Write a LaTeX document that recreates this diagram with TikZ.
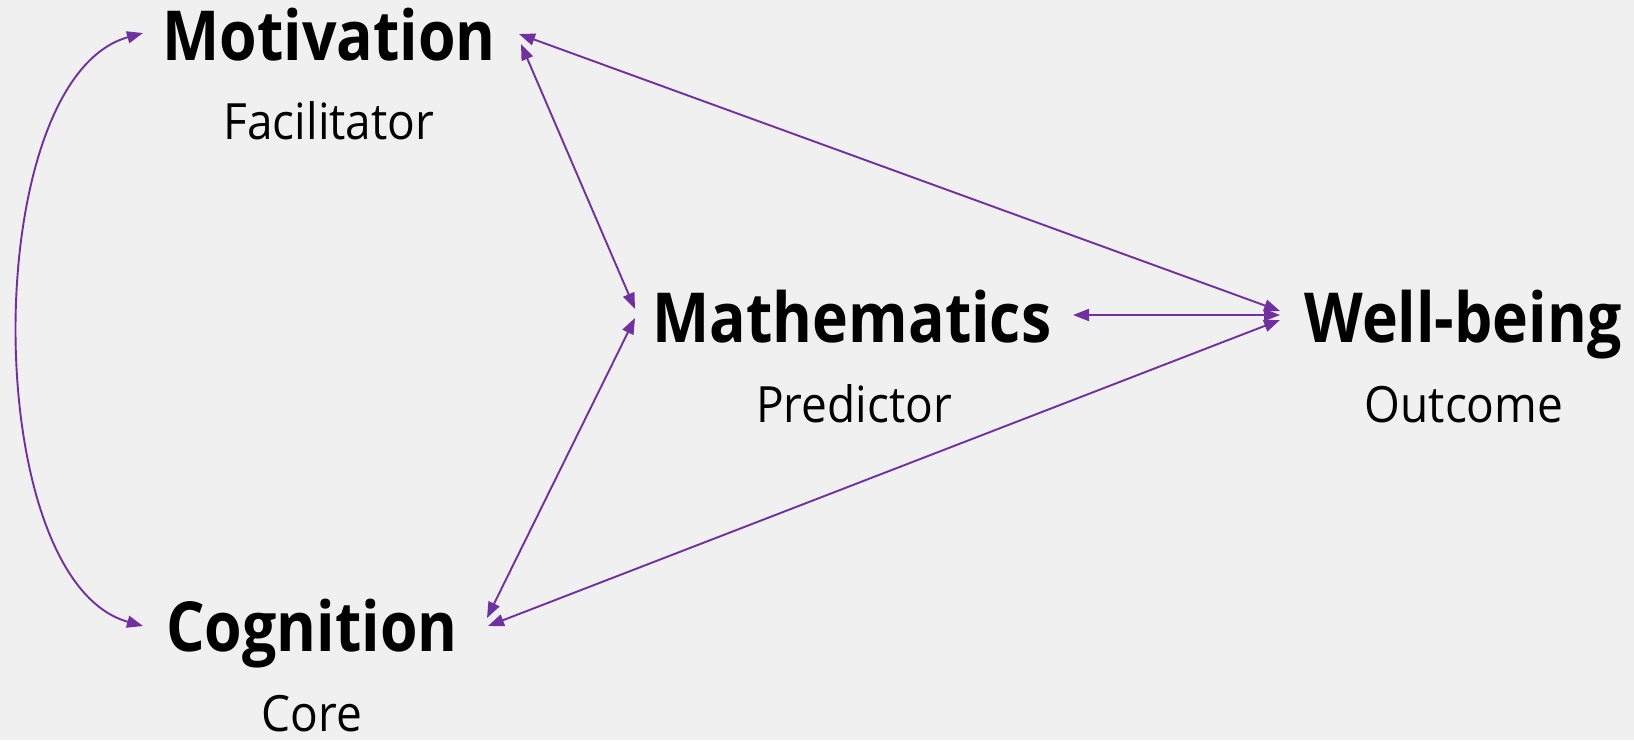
\documentclass[tikz,border=0pt]{standalone}
\usepackage{fontspec}
\setmainfont{Open Sans}
\newfontfamily\titlef[FakeStretch=0.88]{Open Sans}
\newfontfamily\subf[FakeStretch=0.92]{Open Sans}
\usetikzlibrary{arrows.meta}
\definecolor{arr}{HTML}{7030A0}
\definecolor{bg}{HTML}{F0F0F0}
\begin{document}
\begin{tikzpicture}[x=1pt,y=-1pt,
  title/.style={font=\titlef\bfseries\fontsize{69}{69}\selectfont, anchor=base, inner sep=0pt},
  sub/.style={font=\subf\fontsize{50}{50}\selectfont, anchor=base, inner sep=0pt, text depth=0pt},
  link/.style={draw=arr, line width=1.9pt, {Triangle[length=16pt,width=12pt]}-{Triangle[length=16pt,width=12pt]}}]
\fill[bg] (0,0) rectangle (1634,740);
\useasboundingbox (0,0) rectangle (1634,740);
% labels
\node[title] (mot) at (329,60) {Motivation};
\node[sub] (motsub) at (329,139) {Facilitator};
\node[title] (math) at (852,342) {Mathematics};
\node[sub] (mathsub) at (854,422) {Predictor};
\node[title] (well) at (1463,342) {Well-being};
\node[sub] (wellsub) at (1464,422) {Outcome};
\node[title] (cog) at (312,651) {Cognition};
\node[sub] (cogsub) at (312,731) {Core};
% connector end points
\coordinate (motL) at (143,33);
\coordinate (cogL) at (143,626);
\coordinate (motRa) at (519,34);
\coordinate (motRb) at (521,44);
\coordinate (mathLa) at (635,309);
\coordinate (mathLb) at (635,318);
\coordinate (mathR) at (1073,315);
\coordinate (cogRa) at (487,618);
\coordinate (cogRb) at (488,626);
\coordinate (wellLa) at (1280,311);
\coordinate (wellLb) at (1280,315);
\coordinate (wellLc) at (1280,320);
% connectors
\draw[link] (motL) .. controls (-22,79) and (-22,580) .. (cogL);
\draw[link] (motRb) -- (mathLa);
\draw[link] (cogRa) -- (mathLb);
\draw[link] (mathR) -- (wellLb);
\draw[link] (motRa) -- (wellLa);
\draw[link] (cogRb) -- (wellLc);
\end{tikzpicture}
\end{document}
